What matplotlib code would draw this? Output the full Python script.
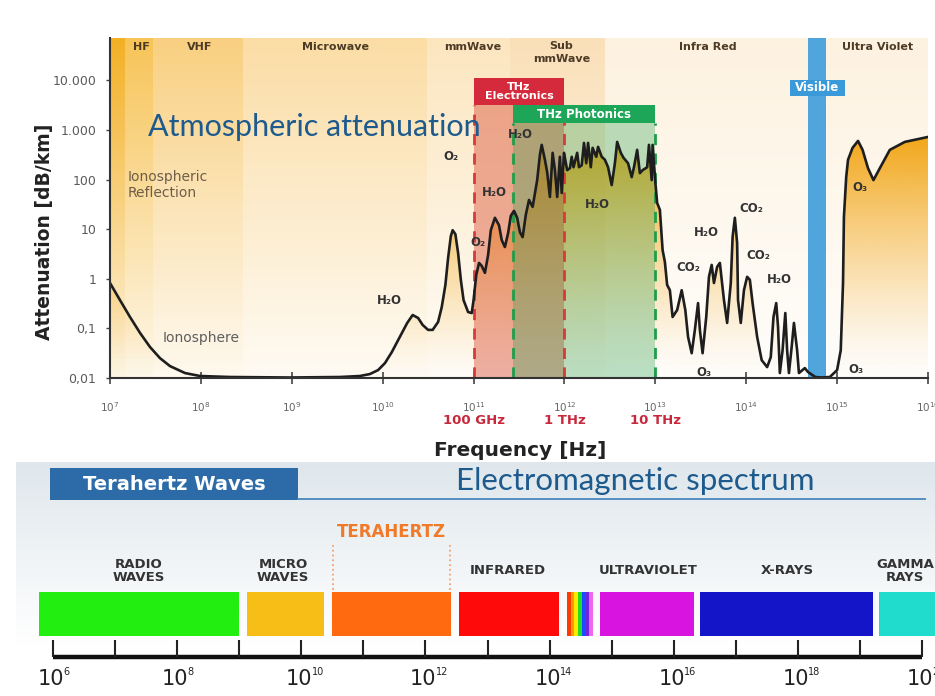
import numpy as np
import matplotlib
matplotlib.use('Agg')
import matplotlib.pyplot as plt
from matplotlib.patches import Rectangle, Polygon
from matplotlib.colors import to_rgb

plt.rcParams['font.family'] = ['DejaVu Sans']

# attenuation curve: log10(f / Hz) and log10(att / dB/km)
log_freq = [7.00, 7.11, 7.22, 7.33, 7.44, 7.55, 7.66, 7.825, 7.99, 8.32,
            8.98, 9.53, 9.75, 9.86, 9.95, 10.025, 10.10, 10.19, 10.27, 10.33,
            10.39, 10.44, 10.50, 10.55, 10.61, 10.65, 10.69, 10.72, 10.75, 10.77,
            10.80, 10.83, 10.86, 10.89, 10.94, 10.98, 11.00, 11.03, 11.06, 11.09,
            11.125, 11.16, 11.19, 11.235, 11.28, 11.31, 11.345, 11.38, 11.41, 11.445,
            11.48, 11.51, 11.54, 11.575, 11.61, 11.65, 11.70, 11.73, 11.75, 11.785,
            11.81, 11.84, 11.87, 11.895, 11.92, 11.95, 11.97, 11.995, 12.03, 12.06,
            12.08, 12.10, 12.14, 12.16, 12.19, 12.215, 12.24, 12.26, 12.29, 12.31,
            12.35, 12.37, 12.41, 12.445, 12.48, 12.52, 12.555, 12.58, 12.62, 12.65,
            12.70, 12.74, 12.765, 12.80, 12.83, 12.86, 12.91, 12.93, 12.96, 12.97,
            13.00, 13.02, 13.05, 13.08, 13.105, 13.13, 13.16, 13.19, 13.24, 13.29,
            13.33, 13.36, 13.40, 13.435, 13.47, 13.49, 13.52, 13.56, 13.59, 13.62,
            13.645, 13.68, 13.71, 13.755, 13.79, 13.83, 13.85, 13.875, 13.90, 13.91,
            13.94, 13.975, 14.01, 14.04, 14.07, 14.12, 14.17, 14.23, 14.27, 14.30,
            14.33, 14.35, 14.37, 14.40, 14.43, 14.45, 14.47, 14.50, 14.525, 14.56,
            14.58, 14.62, 14.645, 14.68, 14.76, 14.83, 14.92, 15.00, 15.04, 15.065,
            15.075, 15.10, 15.12, 15.17, 15.23, 15.28, 15.34, 15.40, 15.47, 15.58,
            15.745, 16.00]
log_att = [-0.085, -0.43, -0.77, -1.09, -1.375, -1.60, -1.76, -1.90, -1.96, -1.98,
           -1.99, -1.98, -1.96, -1.92, -1.84, -1.70, -1.48, -1.17, -0.89, -0.73,
           -0.79, -0.93, -1.03, -1.03, -0.87, -0.57, -0.125, 0.42, 0.86, 0.98,
           0.90, 0.52, -0.02, -0.43, -0.67, -0.69, -0.43, 0.08, 0.32, 0.26,
           0.12, 0.48, 0.98, 1.23, 1.08, 0.78, 0.64, 0.92, 1.27, 1.37,
           1.23, 0.94, 0.84, 1.29, 1.59, 1.45, 1.99, 2.50, 2.70, 2.40,
           2.15, 1.65, 2.54, 2.19, 1.65, 2.46, 1.73, 2.54, 2.19, 2.23,
           2.46, 2.25, 2.54, 2.25, 2.29, 2.74, 2.33, 2.74, 2.25, 2.64,
           2.46, 2.66, 2.46, 2.40, 2.25, 1.89, 2.33, 2.76, 2.54, 2.44,
           2.33, 2.05, 2.25, 2.60, 2.13, 2.19, 2.25, 2.70, 1.99, 2.70,
           1.95, 1.53, 1.39, 0.58, 0.34, -0.125, -0.23, -0.77, -0.63, -0.23,
           -0.63, -1.17, -1.50, -1.03, -0.49, -1.03, -1.50, -0.77, 0.04, 0.28,
           -0.085, 0.24, 0.32, -0.43, -0.89, -0.085, 0.84, 1.23, 0.72, -0.43,
           -0.89, -0.23, 0.04, -0.02, -0.49, -1.17, -1.64, -1.78, -1.58, -0.77,
           -0.49, -0.97, -1.90, -1.44, -0.69, -1.44, -1.90, -1.375, -0.89, -1.44,
           -1.90, -1.84, -1.80, -1.88, -1.98, -1.99, -1.98, -1.84, -1.44, -0.085,
           1.25, 2.05, 2.40, 2.64, 2.78, 2.60, 2.23, 1.99, 2.23, 2.60,
           2.76, 2.86]

# frequency bands along the top of the chart
band_edges = [1e7, 1.46e7, 2.95e7, 2.9e8, 3.1e10, 2.5e11, 2.8e12, 1e16]
band_colors = ['#f3b024', '#f7c458', '#f9d081', '#fbdda5', '#fce6bf', '#fae0b9', '#fdf2e0']
band_names = ['HF', 'VHF', 'Microwave', 'mmWave', 'Sub\nmmWave', 'Infra Red', 'Ultra Violet']
band_name_freq = [2.24e7, 9.8e7, 3.0e9, 9.8e10, 9.3e11, 3.8e13, 2.8e15]

visible = (4.8e14, 7.6e14)
thz_elec = (1e11, 1e12)
thz_phot = (2.7e11, 1e13)

molecules = ['H₂O', 'O₂', 'O₂', 'H₂O', 'H₂O', 'H₂O', 'CO₂', 'H₂O', 'CO₂', 'CO₂',
             'H₂O', 'O₃', 'O₃', 'O₃']
mol_freq = [1.2e10, 5.6e10, 1.12e11, 1.7e11, 3.3e11, 2.3e12, 2.3e13, 3.6e13, 1.15e14,
            1.35e14, 2.3e14, 3.4e13, 1.6e15, 1.8e15]
mol_att = [0.37, 290, 5.3, 56, 800, 31, 1.7, 8.7, 26, 3.0, 0.95, 0.013, 0.0145, 70]

y_ticks = [0.01, 0.1, 1, 10, 100, 1000, 10000]
y_tick_labels = ['0,01', '0,1', '1', '10', '100', '1.000', '10.000']
x_tick_exp = list(range(7, 17))
thz_marks = ['100 GHz', '1 THz', '10 THz']
thz_mark_freq = [1e11, 1e12, 1e13]

# electromagnetic spectrum strip
spec_lo = [5.96e5, 1.33e9, 3.13e10, 3.47e12, 6.46e14, 2.63e16, 2.04e19]
spec_hi = [1.0e9, 2.32e10, 2.57e12, 1.41e14, 2.14e16, 1.62e19, 3e20]
spec_colors = ['#22ee10', '#f8be18', '#ff6a10', '#ff0a0a', '#d814e0', '#1414c8', '#20dccc']
spec_names = ['RADIO\nWAVES', 'MICRO\nWAVES', 'INFRARED', 'ULTRAVIOLET', 'X-RAYS', 'GAMMA\nRAYS']
spec_name_freq = [2.43e7, 5.1e9, 2.1e13, 3.9e15, 6.7e17, 5.3e19]
rainbow_edges = [1.9e14, 2.19e14, 2.51e14, 2.88e14, 3.31e14, 3.8e14, 4.37e14, 5.0e14]
rainbow_colors = ['#ff3a00', '#ff9a00', '#ffe800', '#22dd22', '#1a4dff', '#7722dd', '#ee66ee']
thz_window = (3.24e10, 2.51e12)
spec_exp = list(range(6, 21))

freq = 10 ** np.array(log_freq)
att = 10 ** np.array(log_att)

fig = plt.figure(figsize=(9.35, 6.96), dpi=100)

# ---------------- bottom: EM spectrum ----------------
ax2 = fig.add_axes([0, 0, 1, 234 / 696])
ax2.set_xscale('log')
ax2.set_xlim(10 ** 5.146, 10 ** 20.209)
ax2.set_ylim(696, 462)
ax2.set_autoscale_on(False)
ax2.axis('off')

t = np.linspace(0, 1, 512)
w = np.clip((t - 0.22) / 0.78, 0, 1)
bg = np.ones((512, 1, 3))
bg[:, 0, :] = (1 - w)[:, None] + w[:, None] * np.array(to_rgb('#dfe7ec'))
ax2.imshow(bg, extent=[16 / 935, 1, 0, 1], transform=ax2.transAxes, origin='lower',
           aspect='auto', interpolation='bilinear', zorder=0)

ax2.fill_between([8.9e5, 8.85e9], 468, 500, color='#2c6ba7', lw=0, zorder=2)
ax2.text(8.9e7, 484, 'Terahertz Waves', color='white', fontsize=14, fontweight='bold',
         ha='center', va='center', zorder=3)
ax2.plot([8.85e9, 1.1e20], [499, 499], color='#4a86bf', lw=1.3, zorder=2)
ax2.text(10 ** 15.38, 481, 'Electromagnetic spectrum', color='#1d5a8e', fontsize=22.5,
         family='Lato', ha='center', va='center', zorder=3)

for lo, hi, c in zip(spec_lo, spec_hi, spec_colors):
    ax2.fill_between([lo, hi], 592, 636, color=c, lw=0, zorder=2)
for i, c in enumerate(rainbow_colors):
    ax2.fill_between([rainbow_edges[i], rainbow_edges[i + 1]], 592, 636, color=c, lw=0, zorder=2)
for name, f in zip(spec_names, spec_name_freq):
    ax2.text(f, 571, name, fontsize=9.5, fontweight='bold', color='#333333', ha='center',
             va='center', linespacing=0.95, zorder=3)
ax2.text(np.sqrt(thz_window[0] * thz_window[1]), 532, 'TERAHERTZ', color='#f07a2a',
         fontsize=12, fontweight='bold', ha='center', va='center', zorder=3)
ax2.vlines(thz_window, 545, 590, color='#f4a070', linestyles=':', lw=1.3, zorder=2)

ax2.plot([1e6, 1e20], [657, 657], color='#111111', lw=3.2, solid_capstyle='butt', zorder=3)
ax2.vlines([10.0 ** e for e in spec_exp], 640, 657, color='#222222', lw=1.5, zorder=3)
for e in spec_exp[::2]:
    ax2.annotate('10', (10.0 ** e, 679), xytext=(8, 0), textcoords='offset points',
                 fontsize=15, color='#222222', ha='right', va='center', zorder=3)
    ax2.annotate(str(e), (10.0 ** e, 679), xytext=(7.6, 5), textcoords='offset points',
                 fontsize=7, color='#222222', ha='left', va='center', zorder=3)

# ---------------- top: atmospheric attenuation ----------------
ax = fig.add_axes([110 / 935, 1 - 378 / 696, 818 / 935, 340 / 696])
ax.set_xscale('log')
ax.set_yscale('log')
ax.set_xlim(1e7, 1e16)
ax.set_ylim(0.01, 10 ** 4.855)
ax.set_autoscale_on(False)

for i, c in enumerate(band_colors):
    ax.axvspan(band_edges[i], band_edges[i + 1], color=c, lw=0, zorder=0)

fade = np.ones((512, 1, 4))
fade[:, 0, 3] = np.linspace(0.88, 0.0, 512)
ax.imshow(fade, extent=[0, 1, 0, 1], transform=ax.transAxes, origin='lower',
          aspect='auto', interpolation='bilinear', zorder=0.5)

glow = np.zeros((512, 1, 4))
glow[..., :3] = to_rgb('#f2a81d')
glow[:, 0, 3] = np.clip(t / 0.7, 0, 1) ** 1.4
im = ax.imshow(glow, extent=[0, 1, 0, 1], transform=ax.transAxes, origin='lower',
               aspect='auto', interpolation='bilinear', zorder=1)
poly = Polygon(np.column_stack([np.r_[freq, 1e16, 1e7], np.r_[att, 0.01, 0.01]]),
               closed=True, transform=ax.transData, fc='none', ec='none')
ax.add_patch(poly)
im.set_clip_path(poly)

ax.fill_between(thz_elec, 0.01, 10 ** 3.5, color='#d8452c', alpha=0.42, lw=0, zorder=2)
ax.fill_between(thz_phot, 0.01, 10 ** 3.14, color='#2ea050', alpha=0.32, lw=0, zorder=2)
ax.axvspan(*visible, color='#4fa5dc', lw=0, zorder=2.5)

ax.vlines(thz_elec, 0.01, 10 ** 3.5, color='#d63a3a', lw=2, linestyles=(0, (4, 3)), zorder=3)
ax.vlines(thz_phot, 0.01, 10 ** 3.14, color='#1e9e4a', lw=2, linestyles=(0, (4, 3)), zorder=3)

ax.plot(freq, att, color='#1e1e1e', lw=1.9, zorder=4)

ax.add_patch(Rectangle((thz_elec[0], 10 ** 3.5), thz_elec[1] - thz_elec[0],
                       10 ** 4.05 - 10 ** 3.5, fc='#d42a3c', ec='none', zorder=5))
ax.text(np.sqrt(thz_elec[0] * thz_elec[1]), 10 ** 3.775, 'THz\nElectronics', color='white',
        fontsize=8, fontweight='bold', ha='center', va='center', linespacing=0.9, zorder=6)
ax.add_patch(Rectangle((thz_phot[0], 10 ** 3.14), thz_phot[1] - thz_phot[0],
                       10 ** 3.5 - 10 ** 3.14, fc='#1da558', ec='none', zorder=5))
ax.text(np.sqrt(thz_phot[0] * thz_phot[1]), 10 ** 3.32, 'THz Photonics', color='white',
        fontsize=8.5, fontweight='bold', ha='center', va='center', zorder=6)
ax.add_patch(Rectangle((3.0e14, 10 ** 3.69), 1.23e15 - 3.0e14, 10 ** 4.01 - 10 ** 3.69,
                       fc='#3a9ad9', ec='none', zorder=5))
ax.text(np.sqrt(3.0e14 * 1.23e15), 10 ** 3.85, 'Visible', color='white', fontsize=8.5,
        fontweight='bold', ha='center', va='center', zorder=6)

for name, f in zip(band_names, band_name_freq):
    two = '\n' in name
    ax.text(f, 0.99 if two else 0.974, name, transform=ax.get_xaxis_transform(), fontsize=8,
            fontweight='bold', color='#4d3b26', ha='center', va='top' if two else 'center',
            linespacing=1.3, zorder=6)

for m, f, a in zip(molecules, mol_freq, mol_att):
    ax.text(f, a, m, fontsize=8.5, fontweight='bold', color='#333333', ha='center',
            va='center', zorder=6)

ax.text(1.58e7, 78, 'Ionospheric\nReflection', fontsize=10, color='#6e5e48', ha='left',
        va='center', linespacing=1.2, zorder=6)
ax.text(3.8e7, 0.065, 'Ionosphere', fontsize=10, color='#5e5e5e', ha='left', va='center',
        zorder=6)
ax.text(2.6e7, 1150, 'Atmospheric attenuation', fontsize=22, family='Lato',
        color='#1d5a8e', ha='left', va='center', zorder=7)

for sp in ['top', 'right']:
    ax.spines[sp].set_visible(False)
for sp in ['left', 'bottom']:
    ax.spines[sp].set_color('#333333')
    ax.spines[sp].set_linewidth(1.5)
    ax.spines[sp].set_zorder(6)

ax.set_xticks([10.0 ** e for e in x_tick_exp])
ax.set_xticklabels([r'$\mathregular{10^{%d}}$' % e for e in x_tick_exp])
ax.set_yticks(y_ticks)
ax.set_yticklabels(y_tick_labels)
ax.minorticks_off()
ax.tick_params(axis='x', direction='inout', length=8, width=1.2, color='#444444',
               labelsize=7.5, labelcolor='#666666', pad=12)
ax.tick_params(axis='y', direction='out', length=3, width=1, color='#444444',
               labelsize=9, labelcolor='#5a5a5a', pad=7)

for lab, f in zip(thz_marks, thz_mark_freq):
    ax.text(f, -0.125, lab, transform=ax.get_xaxis_transform(), color='#c8283c',
            fontsize=9.5, fontweight='bold', ha='center', va='center')

fig.text(520 / 935, 1 - 451 / 696, 'Frequency [Hz]', fontsize=14.5, fontweight='bold',
         color='#222222', ha='center', va='center')
fig.text(45 / 935, 1 - 232 / 696, 'Attenuation [dB/km]', fontsize=13.5, fontweight='bold',
         color='#222222', ha='center', va='center', rotation=90)

fig.savefig('out.png', dpi=100)
